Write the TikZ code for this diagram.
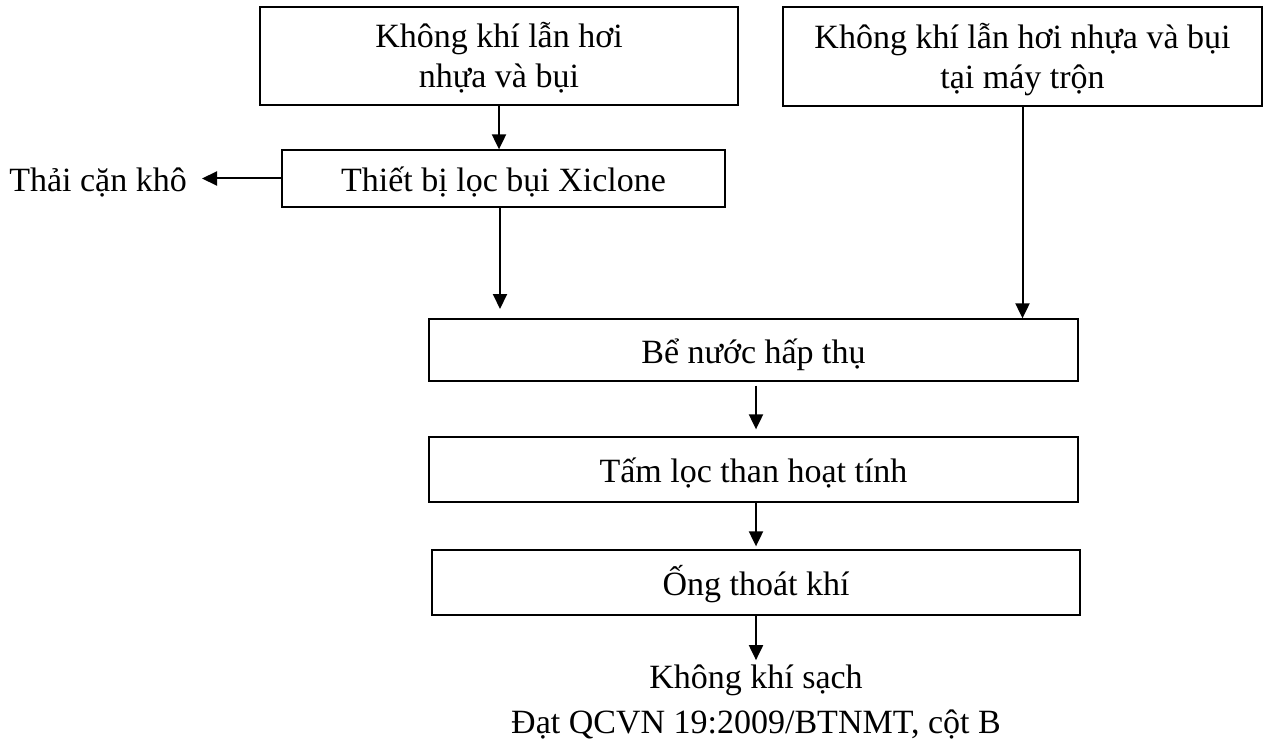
\documentclass[tikz,border=0pt]{standalone}
\usepackage{fontspec}
\setmainfont{Liberation Serif}
\usetikzlibrary{arrows.meta}
\begin{document}
\begin{tikzpicture}[x=1pt,y=-1pt,
  txt/.style={font=\fontsize{34}{40}\selectfont},
  box/.style={draw,line width=1.3pt,rectangle,align=center,inner sep=0pt,txt,text depth=0pt,text height=26pt},
  two/.style={text height=64pt,text depth=0pt},
  lbl/.style={inner sep=0pt,txt},
  arr/.style={line width=2pt,-{Triangle[width=14pt,length=15pt]}}]
\useasboundingbox (0,0) rectangle (1264,741);
\node[box,two,minimum width=478pt,minimum height=98pt] (b1) at (499,56) {Không khí lẫn hơi\\nhựa và bụi};
\node[box,two,minimum width=479pt,minimum height=99pt] (b2) at (1022.5,56.5) {Không khí lẫn hơi nhựa và bụi\\tại máy trộn};
\node[box,minimum width=443pt,minimum height=57pt] (b3) at (503.5,178.5) {Thiết bị lọc bụi Xiclone};
\node[box,minimum width=649pt,minimum height=62pt] (b4) at (753.5,350) {Bể nước hấp thụ};
\node[box,minimum width=649pt,minimum height=65pt] (b5) at (753.5,469.5) {Tấm lọc than hoạt tính};
\node[box,minimum width=648pt,minimum height=65pt] (b6) at (756,582.5) {Ống thoát khí};
\node[lbl,inner xsep=15pt,anchor=base east] (thai) at (202,192) {Thải cặn khô};
\node[lbl,inner sep=4pt,anchor=base] (out) at (756,688) {Không khí sạch};
\node[lbl,anchor=base] (std) at (756,733) {Đạt QCVN 19:2009/BTNMT, cột B};
\coordinate (c3) at (500,309);
\draw[arr] (b1.south) -- (b1.south |- b3.north);
\draw[arr] (b3.south -| c3) -- (c3);
\draw[arr] (b3.west) -- (b3.west -| thai.east);
\draw[arr] (b2.south) -- (b2.south |- b4.north);
\draw[arr,shorten <=4pt,shorten >=7pt] (b4.south -| b6.north) -- (b5.north -| b6.north);
\draw[arr,shorten >=3pt] (b5.south -| b6.north) -- (b6.north);
\draw[arr] (b6.south) -- (out.north);
\end{tikzpicture}
\end{document}
